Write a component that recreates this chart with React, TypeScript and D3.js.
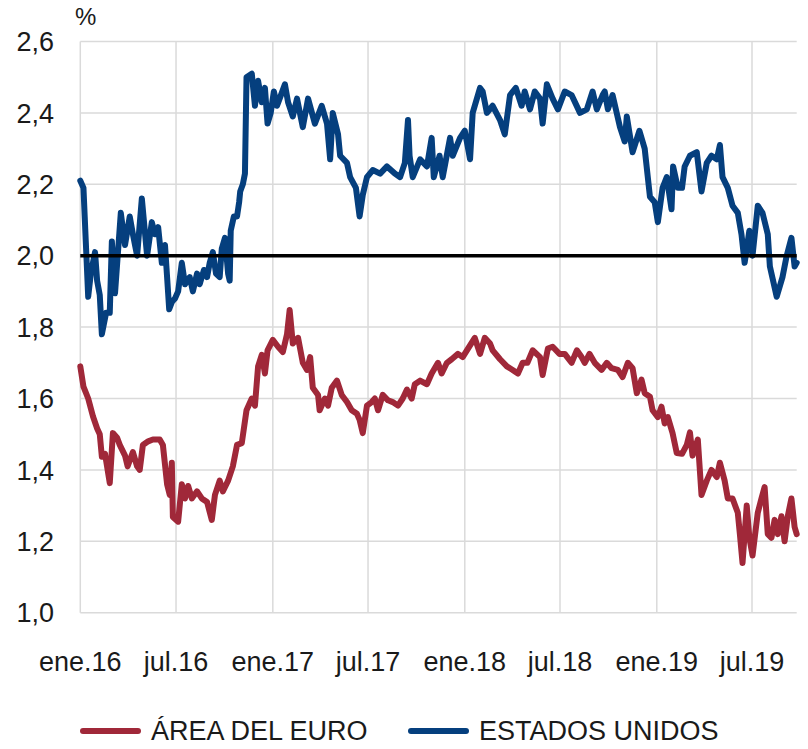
import React from "react";
import * as d3 from "d3";

// breakeven de inflacion a 5 años 5 años (lecturas del grafico)

const yTicks = [1.0, 1.2, 1.4, 1.6, 1.8, 2.0, 2.2, 2.4, 2.6];
const xTickDates = ["2016-01-01", "2016-07-01", "2017-01-01", "2017-07-01", "2018-01-01", "2018-07-01", "2019-01-01", "2019-07-01"];
const xTickLabels = ["ene.16", "jul.16", "ene.17", "jul.17", "ene.18", "jul.18", "ene.19", "jul.19"];
const reference = 2.0;

const estadosUnidos: [string, number][] = [
  ["2016-01-01", 2.21], ["2016-01-07", 2.19], ["2016-01-16", 1.885], ["2016-01-21", 1.95], ["2016-01-29", 2.01],
  ["2016-02-02", 1.93], ["2016-02-07", 1.89], ["2016-02-11", 1.78], ["2016-02-19", 1.84], ["2016-02-26", 1.84],
  ["2016-03-01", 2.04], ["2016-03-07", 1.895], ["2016-03-18", 2.12], ["2016-03-26", 2.03], ["2016-04-04", 2.11],
  ["2016-04-10", 2.06], ["2016-04-18", 2.0], ["2016-04-27", 2.16], ["2016-05-07", 2.0], ["2016-05-16", 2.094],
  ["2016-05-22", 2.06], ["2016-05-28", 2.08], ["2016-06-04", 1.98], ["2016-06-10", 2.03], ["2016-06-14", 1.94],
  ["2016-06-18", 1.85], ["2016-06-23", 1.87], ["2016-06-29", 1.88], ["2016-07-05", 1.9], ["2016-07-12", 1.98],
  ["2016-07-18", 1.92], ["2016-07-27", 1.94], ["2016-08-02", 1.9], ["2016-08-10", 1.95], ["2016-08-15", 1.92],
  ["2016-08-23", 1.96], ["2016-08-29", 1.94], ["2016-09-03", 1.98], ["2016-09-09", 2.01], ["2016-09-15", 1.95],
  ["2016-09-22", 1.94], ["2016-09-26", 2.02], ["2016-10-02", 2.05], ["2016-10-08", 1.95], ["2016-10-11", 1.93],
  ["2016-10-13", 2.07], ["2016-10-19", 2.11], ["2016-10-25", 2.11], ["2016-10-29", 2.15], ["2016-10-31", 2.18],
  ["2016-11-05", 2.2], ["2016-11-09", 2.23], ["2016-11-12", 2.5], ["2016-11-22", 2.51], ["2016-11-28", 2.42],
  ["2016-12-04", 2.49], ["2016-12-11", 2.43], ["2016-12-17", 2.47], ["2016-12-22", 2.37], ["2016-12-28", 2.4],
  ["2017-01-03", 2.46], ["2017-01-09", 2.42], ["2017-01-14", 2.44], ["2017-01-24", 2.48], ["2017-01-30", 2.43],
  ["2017-02-08", 2.39], ["2017-02-16", 2.44], ["2017-02-27", 2.36], ["2017-03-09", 2.44], ["2017-03-22", 2.37],
  ["2017-04-04", 2.42], ["2017-04-14", 2.37], ["2017-04-20", 2.27], ["2017-04-25", 2.4], ["2017-05-05", 2.34],
  ["2017-05-09", 2.28], ["2017-05-22", 2.26], ["2017-05-28", 2.22], ["2017-06-08", 2.19], ["2017-06-15", 2.11],
  ["2017-06-21", 2.17], ["2017-06-29", 2.22], ["2017-07-10", 2.24], ["2017-07-24", 2.23], ["2017-08-06", 2.25],
  ["2017-08-21", 2.23], ["2017-08-31", 2.22], ["2017-09-09", 2.26], ["2017-09-15", 2.38], ["2017-09-18", 2.28],
  ["2017-09-24", 2.22], ["2017-10-08", 2.27], ["2017-10-21", 2.25], ["2017-10-30", 2.33], ["2017-11-03", 2.22],
  ["2017-11-14", 2.28], ["2017-11-20", 2.22], ["2017-12-04", 2.33], ["2017-12-09", 2.28], ["2017-12-23", 2.33],
  ["2018-01-01", 2.35], ["2018-01-11", 2.27], ["2018-01-16", 2.4], ["2018-01-30", 2.47], ["2018-02-04", 2.46],
  ["2018-02-12", 2.4], ["2018-02-23", 2.42], ["2018-03-09", 2.38], ["2018-03-18", 2.34], ["2018-03-28", 2.45],
  ["2018-04-08", 2.47], ["2018-04-19", 2.42], ["2018-04-25", 2.46], ["2018-05-05", 2.41], ["2018-05-14", 2.46],
  ["2018-05-24", 2.44], ["2018-05-29", 2.37], ["2018-06-06", 2.48], ["2018-06-17", 2.44], ["2018-06-27", 2.41],
  ["2018-07-10", 2.46], ["2018-07-23", 2.45], ["2018-08-08", 2.4], ["2018-08-21", 2.41], ["2018-09-01", 2.46],
  ["2018-09-09", 2.41], ["2018-09-20", 2.45], ["2018-09-24", 2.46], ["2018-09-30", 2.41], ["2018-10-09", 2.45],
  ["2018-10-23", 2.36], ["2018-11-01", 2.32], ["2018-11-05", 2.39], ["2018-11-16", 2.29], ["2018-11-29", 2.35],
  ["2018-12-09", 2.3], ["2018-12-19", 2.165], ["2018-12-28", 2.15], ["2019-01-03", 2.094], ["2019-01-12", 2.19],
  ["2019-01-20", 2.22], ["2019-01-29", 2.13], ["2019-02-01", 2.25], ["2019-02-10", 2.19], ["2019-02-18", 2.19],
  ["2019-02-23", 2.25], ["2019-03-05", 2.28], ["2019-03-18", 2.29], ["2019-03-27", 2.18], ["2019-04-06", 2.26],
  ["2019-04-15", 2.28], ["2019-04-25", 2.27], ["2019-05-01", 2.31], ["2019-05-06", 2.22], ["2019-05-16", 2.19],
  ["2019-05-25", 2.14], ["2019-06-04", 2.12], ["2019-06-11", 2.06], ["2019-06-17", 1.98], ["2019-06-26", 2.07],
  ["2019-07-02", 2.0], ["2019-07-12", 2.14], ["2019-07-21", 2.12], ["2019-07-31", 2.06], ["2019-08-04", 1.97],
  ["2019-08-17", 1.885], ["2019-08-28", 1.94], ["2019-09-05", 2.0], ["2019-09-14", 2.05], ["2019-09-20", 1.97],
  ["2019-09-24", 1.98],
];

const areaEuro: [string, number][] = [
  ["2016-01-01", 1.69], ["2016-01-07", 1.633], ["2016-01-16", 1.6], ["2016-01-25", 1.55], ["2016-02-02", 1.516],
  ["2016-02-07", 1.5], ["2016-02-11", 1.437], ["2016-02-17", 1.445], ["2016-02-26", 1.363], ["2016-03-03", 1.503],
  ["2016-03-11", 1.49], ["2016-03-16", 1.47], ["2016-03-26", 1.44], ["2016-03-31", 1.41], ["2016-04-10", 1.45],
  ["2016-04-18", 1.41], ["2016-04-23", 1.4], ["2016-04-29", 1.47], ["2016-05-09", 1.48], ["2016-05-18", 1.485],
  ["2016-05-31", 1.485], ["2016-06-06", 1.47], ["2016-06-14", 1.36], ["2016-06-19", 1.33], ["2016-06-23", 1.42],
  ["2016-06-25", 1.268], ["2016-07-05", 1.255], ["2016-07-12", 1.36], ["2016-07-18", 1.32], ["2016-07-24", 1.355],
  ["2016-07-31", 1.32], ["2016-08-10", 1.34], ["2016-08-19", 1.32], ["2016-08-29", 1.31], ["2016-09-07", 1.26],
  ["2016-09-13", 1.33], ["2016-09-22", 1.37], ["2016-09-28", 1.34], ["2016-10-08", 1.37], ["2016-10-17", 1.41],
  ["2016-10-25", 1.47], ["2016-11-03", 1.475], ["2016-11-12", 1.567], ["2016-11-22", 1.6], ["2016-11-28", 1.58],
  ["2016-12-04", 1.69], ["2016-12-11", 1.722], ["2016-12-17", 1.67], ["2016-12-22", 1.735], ["2017-01-01", 1.764],
  ["2017-01-11", 1.745], ["2017-01-20", 1.73], ["2017-01-28", 1.78], ["2017-02-02", 1.848], ["2017-02-08", 1.754],
  ["2017-02-18", 1.77], ["2017-02-27", 1.7], ["2017-03-07", 1.68], ["2017-03-13", 1.716], ["2017-03-18", 1.63],
  ["2017-03-28", 1.61], ["2017-03-31", 1.567], ["2017-04-10", 1.6], ["2017-04-16", 1.58], ["2017-04-23", 1.63],
  ["2017-05-03", 1.65], ["2017-05-12", 1.61], ["2017-05-22", 1.59], ["2017-05-31", 1.567], ["2017-06-10", 1.557],
  ["2017-06-15", 1.54], ["2017-06-21", 1.503], ["2017-06-29", 1.58], ["2017-07-08", 1.59], ["2017-07-14", 1.6],
  ["2017-07-20", 1.567], ["2017-07-29", 1.61], ["2017-08-08", 1.595], ["2017-08-17", 1.59], ["2017-08-27", 1.58],
  ["2017-09-05", 1.6], ["2017-09-13", 1.625], ["2017-09-22", 1.6], ["2017-09-28", 1.64], ["2017-10-08", 1.65],
  ["2017-10-21", 1.64], ["2017-10-30", 1.67], ["2017-11-11", 1.7], ["2017-11-18", 1.67], ["2017-11-28", 1.7],
  ["2017-12-07", 1.71], ["2017-12-19", 1.725], ["2017-12-28", 1.716], ["2018-01-05", 1.735], ["2018-01-20", 1.77],
  ["2018-01-30", 1.725], ["2018-02-08", 1.77], ["2018-02-18", 1.754], ["2018-02-23", 1.735], ["2018-03-09", 1.71],
  ["2018-03-22", 1.69], ["2018-04-02", 1.68], ["2018-04-12", 1.67], ["2018-04-21", 1.7], ["2018-04-30", 1.7],
  ["2018-05-10", 1.735], ["2018-05-24", 1.716], ["2018-05-29", 1.666], ["2018-06-08", 1.74], ["2018-06-17", 1.745],
  ["2018-06-30", 1.725], ["2018-07-10", 1.725], ["2018-07-23", 1.7], ["2018-08-02", 1.735], ["2018-08-11", 1.716],
  ["2018-08-17", 1.7], ["2018-08-26", 1.725], ["2018-09-05", 1.7], ["2018-09-18", 1.68], ["2018-09-28", 1.7],
  ["2018-10-07", 1.685], ["2018-10-19", 1.68], ["2018-10-28", 1.66], ["2018-11-07", 1.7], ["2018-11-16", 1.685],
  ["2018-11-24", 1.615], ["2018-12-03", 1.653], ["2018-12-09", 1.615], ["2018-12-19", 1.605], ["2018-12-24", 1.567],
  ["2019-01-03", 1.548], ["2019-01-10", 1.577], ["2019-01-16", 1.53], ["2019-01-22", 1.548], ["2019-01-31", 1.503],
  ["2019-02-08", 1.447], ["2019-02-18", 1.445], ["2019-02-27", 1.47], ["2019-03-05", 1.505], ["2019-03-10", 1.44],
  ["2019-03-20", 1.485], ["2019-03-27", 1.33], ["2019-04-06", 1.37], ["2019-04-15", 1.4], ["2019-04-25", 1.38],
  ["2019-05-01", 1.42], ["2019-05-10", 1.37], ["2019-05-16", 1.32], ["2019-05-25", 1.32], ["2019-06-04", 1.28],
  ["2019-06-08", 1.22], ["2019-06-13", 1.139], ["2019-06-21", 1.3], ["2019-06-26", 1.21], ["2019-07-02", 1.16],
  ["2019-07-12", 1.28], ["2019-07-19", 1.32], ["2019-07-25", 1.352], ["2019-07-31", 1.22], ["2019-08-07", 1.21],
  ["2019-08-13", 1.26], ["2019-08-19", 1.22], ["2019-08-26", 1.27], ["2019-09-01", 1.2], ["2019-09-07", 1.27],
  ["2019-09-14", 1.32], ["2019-09-20", 1.24], ["2019-09-24", 1.22],
];

const seriesNames = ["ÁREA DEL EURO", "ESTADOS UNIDOS"];
const seriesColors = ["#a02839", "#053f7e"];

const W = 808;
const H = 749;
const left = 80.3;
const right = 796.7;
const top = 41.5;
const bottom = 612.7;
const font = "'Liberation Sans', Arial, Helvetica, sans-serif";

const parse = d3.timeParse("%Y-%m-%d");

export default function App() {
  const x = d3
    .scaleTime()
    .domain([parse("2016-01-01") as Date, parse("2019-09-24") as Date])
    .range([left, right]);
  const y = d3.scaleLinear().domain([1.0, 2.6]).range([bottom, top]);

  const line = d3
    .line<[string, number]>()
    .x((d) => x(parse(d[0]) as Date))
    .y((d) => y(d[1]));

  const fmt = (v: number) => v.toFixed(1).replace(".", ",");

  return (
    <svg
      width={W}
      height={H}
      style={{ position: "absolute", left: 0, top: 0, background: "#fff" }}
      fontFamily={font}
    >
      {/* rejilla */}
      {yTicks.map((t) => (
        <line key={"h" + t} x1={left} x2={right} y1={y(t)} y2={y(t)} stroke="#dadada" strokeWidth={1.5} />
      ))}
      {xTickDates.map((d) => {
        const xx = x(parse(d) as Date);
        return <line key={"v" + d} x1={xx} x2={xx} y1={top} y2={bottom} stroke="#dadada" strokeWidth={1.5} />;
      })}

      {/* etiquetas */}
      {yTicks.map((t) => (
        <text key={"yl" + t} x={54} y={y(t)} dy="0.36em" textAnchor="end" fontSize={27} fill="#1a1a1a">
          {fmt(t)}
        </text>
      ))}
      <text x={75} y={25} fontSize={24} fill="#1a1a1a">%</text>
      {xTickDates.map((d, i) => (
        <text key={"xl" + d} x={x(parse(d) as Date)} y={671} textAnchor="middle" fontSize={27} fill="#1a1a1a">
          {xTickLabels[i]}
        </text>
      ))}

      {/* series */}
      <path d={line(areaEuro) || ""} fill="none" stroke={seriesColors[0]} strokeWidth={6} strokeLinejoin="round" strokeLinecap="round" />
      <path d={line(estadosUnidos) || ""} fill="none" stroke={seriesColors[1]} strokeWidth={6} strokeLinejoin="round" strokeLinecap="round" />
      <line x1={left} x2={right} y1={y(reference)} y2={y(reference)} stroke="#000" strokeWidth={3.5} />

      {/* leyenda */}
      {seriesNames.map((name, i) => {
        const lx = i === 0 ? 83 : 411;
        return (
          <g key={name}>
            <line x1={lx} x2={lx + 55} y1={731} y2={731} stroke={seriesColors[i]} strokeWidth={6} strokeLinecap="round" />
            <text x={lx + 68} y={740} fontSize={27} fill="#1a1a1a">{name}</text>
          </g>
        );
      })}
    </svg>
  );
}
